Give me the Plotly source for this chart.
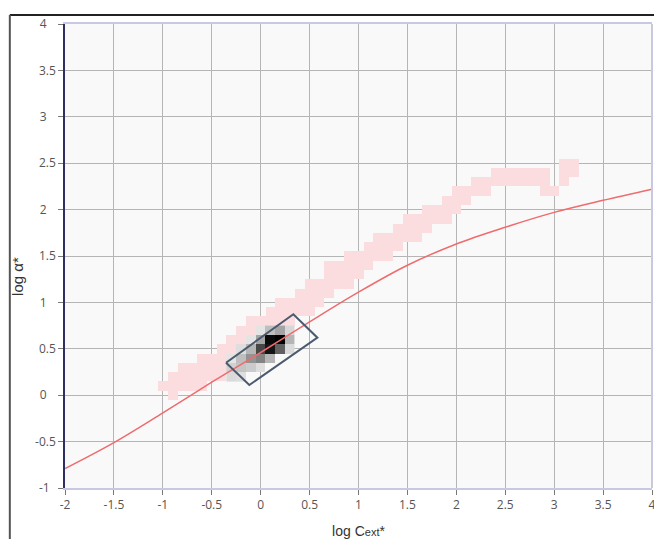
import plotly.graph_objects as go
import numpy as np

# ---------------- data ----------------
# pink density band: per x-column (bin centre) the lowest / highest occupied y-bin centre
pink_x = [-1.0, -0.9, -0.8, -0.7, -0.6, -0.5, -0.4, -0.3, -0.2, -0.1,
          0.0, 0.1, 0.2, 0.3, 0.4, 0.5, 0.6, 0.7, 0.8, 0.9,
          1.0, 1.1, 1.2, 1.3, 1.4, 1.5, 1.6, 1.7, 1.8, 1.9,
          2.0, 2.1, 2.2, 2.3, 2.4, 2.5, 2.6, 2.7, 2.8, 2.9,
          3.0, 3.1, 3.2]
pink_lo = [0.1, 0.0, 0.1, 0.1, 0.1, 0.2, 0.2, 0.3, 0.4, 0.5,
           0.6, 0.7, 0.8, 0.8, 0.9, 0.9, 1.0, 1.1, 1.2, 1.2,
           1.3, 1.4, 1.5, 1.5, 1.6, 1.7, 1.7, 1.8, 1.9, 1.9,
           2.0, 2.1, 2.2, 2.2, 2.3, 2.3, 2.3, 2.3, 2.3, 2.2,
           2.2, 2.3, 2.4]
pink_hi = [0.1, 0.2, 0.3, 0.3, 0.4, 0.4, 0.5, 0.6, 0.7, 0.8,
           0.8, 0.9, 1.0, 1.0, 1.1, 1.2, 1.2, 1.4, 1.4, 1.5,
           1.5, 1.6, 1.7, 1.7, 1.8, 1.9, 1.9, 2.0, 2.0, 2.1,
           2.2, 2.2, 2.3, 2.3, 2.4, 2.4, 2.4, 2.4, 2.4, 2.4,
           2.2, 2.5, 2.5]

# grey density core (relative counts)
core_x = [-0.3, -0.2, -0.1, 0.0, 0.1, 0.2, 0.3]
core_y = [0.2, 0.3, 0.4, 0.5, 0.6, 0.7]
core_z = [
    [0.10, 0.08, 0.00, 0.00, 0.00, 0.00, 0.00],
    [0.15, 0.22, 0.18, 0.08, 0.00, 0.00, 0.00],
    [0.05, 0.25, 0.40, 0.45, 0.30, 0.00, 0.00],
    [0.00, 0.08, 0.30, 0.65, 0.90, 0.55, 0.10],
    [0.00, 0.00, 0.05, 0.35, 0.95, 1.00, 0.30],
    [0.00, 0.00, 0.00, 0.05, 0.25, 0.35, 0.12],
]

# reference curve
curve_x = [-2.0, -1.5, -1.0, -0.5, 0.0, 0.5, 1.0, 1.5, 2.0, 2.5, 3.0, 3.5, 4.0]
curve_y = [-0.79, -0.51, -0.19, 0.14, 0.46, 0.79, 1.11, 1.40, 1.63, 1.81, 1.97, 2.10, 2.22]

# selection box corners
box_x = [-0.354, 0.334, 0.580, -0.116, -0.354]
box_y = [0.350, 0.872, 0.620, 0.110, 0.350]

x_ticks = [-2, -1.5, -1, -0.5, 0, 0.5, 1, 1.5, 2, 2.5, 3, 3.5, 4]
x_ticktext = ["-2", "-1.5", "-1", "-0.5", "0", "0.5", "1", "1.5", "2", "2.5", "3", "3.5", "4"]
y_ticks = [-1, -0.5, 0, 0.5, 1, 1.5, 2, 2.5, 3, 3.5, 4]
y_ticktext = ["-1", "-0.5", "0", "0.5", "1", "1.5", "2", "2.5", "3", "3.5", "4"]

# ---------------- build pink grid ----------------
grid_y = [round(v, 1) for v in np.arange(-0.1, 2.65, 0.1)]
pink_z = []
for yv in grid_y:
    row = []
    for lo, hi in zip(pink_lo, pink_hi):
        row.append(1 if lo - 1e-6 <= yv <= hi + 1e-6 else None)
    pink_z.append(row)

core_plot = [[v if v > 0 else None for v in r] for r in core_z]

# pad short y labels so they look left-aligned like the original
def pad(lbl):
    n = {1: 3, 2: 2}.get(len(lbl), 0)
    return lbl + "\u00a0" * n

y_ticktext_padded = [pad(t) for t in y_ticktext]

fig = go.Figure()
fig.add_trace(go.Heatmap(x=pink_x, y=grid_y, z=pink_z,
                         colorscale=[[0, "#fbdde0"], [1, "#fbdde0"]],
                         showscale=False, hoverinfo="skip", zmin=0, zmax=1))
fig.add_trace(go.Heatmap(x=core_x, y=core_y, z=core_plot,
                         colorscale=[[0, "#ededed"], [0.3, "#b5b5b5"], [0.6, "#505050"], [1, "#000000"]],
                         showscale=False, hoverinfo="skip", zmin=0, zmax=1))
fig.add_trace(go.Scatter(x=curve_x, y=curve_y, mode="lines",
                         line=dict(color="#ee6b6e", width=1.5, shape="spline"),
                         hoverinfo="skip"))
fig.add_trace(go.Scatter(x=box_x, y=box_y, mode="lines",
                         line=dict(color="#4b5a6e", width=2),
                         hoverinfo="skip"))

axis_font = dict(family="Open Sans, sans-serif", size=12, color="#555555")

# page body has an 8px default margin: size figure to fill the rest of the window
fig.update_layout(
    width=654, height=531,
    margin=dict(l=57, r=10, t=16, b=51),
    paper_bgcolor="white",
    plot_bgcolor="#f9f9f9",
    showlegend=False,
    xaxis=dict(range=[-2, 4], tickvals=x_ticks, ticktext=x_ticktext, automargin=False,
               showgrid=True, gridcolor="#b5b5b5", gridwidth=1, zeroline=False,
               showline=True, linecolor="#c8c8e2", linewidth=2, mirror=True,
               ticks="outside", ticklen=5, tickcolor="#777777", tickfont=axis_font,
               title=dict(text="log C<span style='font-size:11px'>ext</span>*",
                          font=dict(family="Liberation Sans, sans-serif", size=14, color="#333333"),
                          standoff=21)),
    yaxis=dict(range=[-1, 4], tickvals=y_ticks, ticktext=y_ticktext_padded, automargin=False,
               showgrid=True, gridcolor="#b5b5b5", gridwidth=1, zeroline=False,
               showline=True, linecolor="#2e2e62", linewidth=1.5,
               ticks="outside", ticklen=5, tickcolor="#777777", tickfont=axis_font),
)

fig.add_shape(type="line", xref="paper", yref="paper", x0=1, x1=1, y0=0, y1=1,
              line=dict(color="#c8c8e2", width=2))
# outer container frame (top + left visible)
fig.add_shape(type="line", xref="paper", yref="paper", x0=-0.094, x1=1.05, y0=1.0194, y1=1.0194,
              line=dict(color="#222222", width=2))
fig.add_shape(type="line", xref="paper", yref="paper", x0=-0.094, x1=-0.094, y0=-0.2, y1=1.0194,
              line=dict(color="#555555", width=2))

fig.add_annotation(text="log α*", xref="paper", yref="paper", x=-0.08, y=0.455,
                   textangle=-90, showarrow=False, xanchor="center", yanchor="middle",
                   font=dict(family="Liberation Sans, sans-serif", size=15, color="#333333"))

fig.write_html("out.html")
